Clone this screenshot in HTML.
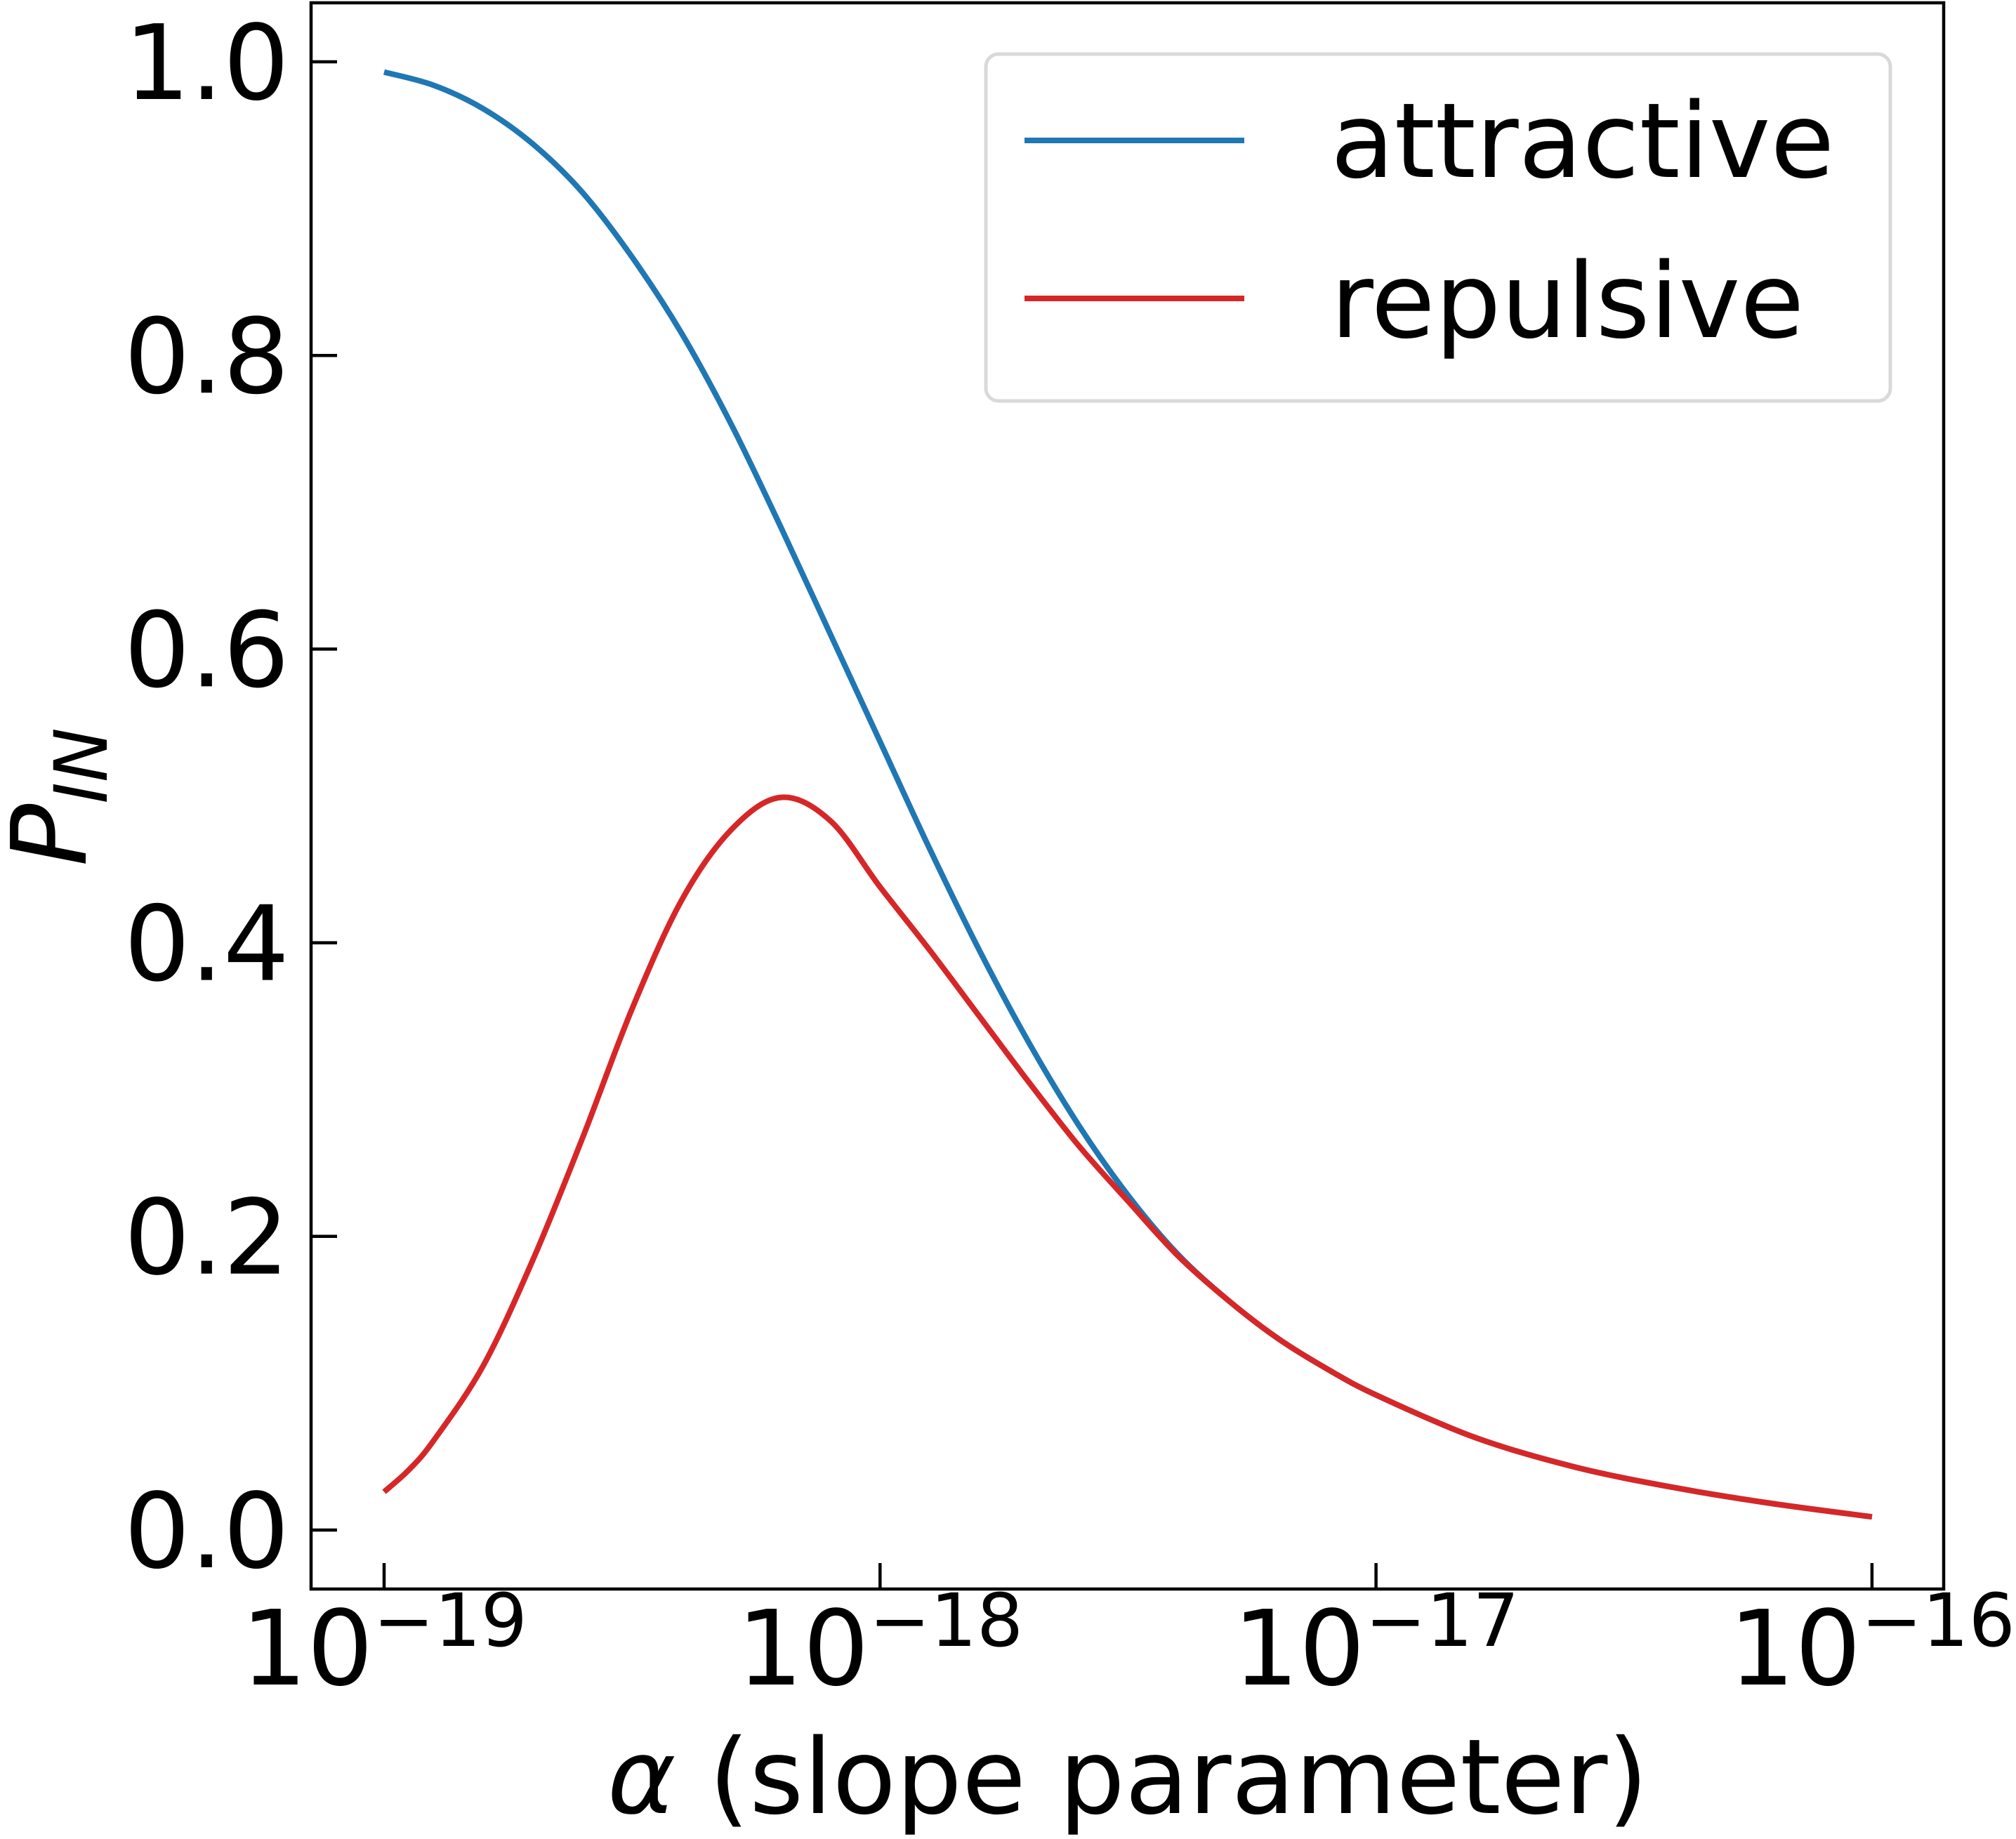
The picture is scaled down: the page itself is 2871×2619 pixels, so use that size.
<!DOCTYPE html>
<html><head><meta charset="utf-8"><style>
html,body{margin:0;padding:0;background:#fff;}
svg{display:block;font-family:"DejaVu Sans","Liberation Sans",sans-serif;}
</style></head><body>
<svg id="chart" width="2871" height="2619" viewBox="0 0 2871 2619" xmlns="http://www.w3.org/2000/svg">
<rect x="0" y="0" width="2871" height="2619" fill="#fff"/>
<g id="plot"></g>
<g id="axes"></g>
<g>
  <rect x="1404" y="77" width="1288" height="494" rx="18" fill="#fff" stroke="#d9d9d9" stroke-width="5"/>
  <line x1="1459" y1="200" x2="1772" y2="200" stroke="#1f77b4" stroke-width="8"/>
  <text x="1895" y="252" font-size="148">attractive</text>
  <line x1="1459" y1="425" x2="1772" y2="425" stroke="#d62728" stroke-width="8"/>
  <text x="1895" y="480" font-size="148">repulsive</text>
</g>
<text x="1606" y="2582" font-size="148" text-anchor="middle"><tspan font-style="italic">α</tspan> (slope parameter)</text>
<text transform="translate(122,1135) rotate(-90)" font-size="148" text-anchor="middle" font-style="italic">P<tspan font-size="104" dy="30">IN</tspan></text>
</svg>
<script>
const attrLogX = [-19,-18.9,-18.8,-18.7,-18.6,-18.5,-18.4,-18.3,-18.2,-18.1,-18,-17.9,-17.8,-17.7,-17.6,-17.5,-17.4,-17.3,-17.2,-17.1,-17,-16.8,-16.6,-16.4,-16.2,-16];
const attrVals = [0.993,0.984,0.968,0.944,0.911,0.867,0.815,0.753,0.683,0.610,0.537,0.464,0.395,0.332,0.276,0.228,0.188,0.157,0.131,0.110,0.092,0.063,0.043,0.029,0.018,0.009];
const repLogX = [-19,-18.95,-18.9,-18.8,-18.7,-18.6,-18.5,-18.4,-18.3,-18.2,-18.1,-18,-17.9,-17.8,-17.7,-17.6,-17.5,-17.4,-17.3,-17.2,-17.1,-17,-16.8,-16.6,-16.4,-16.2,-16];
const repVals = [0.026,0.041,0.061,0.112,0.184,0.267,0.355,0.429,0.477,0.499,0.483,0.438,0.395,0.350,0.305,0.262,0.224,0.187,0.157,0.131,0.110,0.092,0.063,0.043,0.029,0.018,0.009];
const yTicks = [0.0,0.2,0.4,0.6,0.8,1.0];
const yTickLabels = ["0.0","0.2","0.4","0.6","0.8","1.0"];
const xTickExps = [-19,-18,-17,-16];
const xTickSups = ["−19","−18","−17","−16"];

const NS="http://www.w3.org/2000/svg";
const L=443,R=2768,T=4,B=2263;
function xs(e){return 547+(e+19)*706.3;}
function ys(v){return 2179-v*2091;}
function mk(tag,attrs,parent){const el=document.createElementNS(NS,tag);for(const k in attrs)el.setAttribute(k,attrs[k]);parent.appendChild(el);return el;}
const plot=document.getElementById('plot');
const axes=document.getElementById('axes');
function smoothPath(xsArr,vs){
  const pts=xsArr.map((e,i)=>[xs(e),ys(vs[i])]);
  let d='M'+pts[0][0]+','+pts[0][1];
  for(let i=0;i<pts.length-1;i++){
    const p0=pts[Math.max(0,i-1)],p1=pts[i],p2=pts[i+1],p3=pts[Math.min(pts.length-1,i+2)];
    const c1=[p1[0]+(p2[0]-p0[0])/6,p1[1]+(p2[1]-p0[1])/6];
    const c2=[p2[0]-(p3[0]-p1[0])/6,p2[1]-(p3[1]-p1[1])/6];
    d+=' C'+c1[0]+','+c1[1]+' '+c2[0]+','+c2[1]+' '+p2[0]+','+p2[1];
  }
  return d;
}
const pa=mk('path',{d:smoothPath(attrLogX,attrVals),fill:'none',stroke:'#1f77b4','stroke-width':8},plot);


const pr=mk('path',{d:smoothPath(repLogX,repVals),fill:'none',stroke:'#d62728','stroke-width':8},plot);



const frame=mk('rect',{x:L,y:T,width:R-L,height:B-T,fill:'none',stroke:'#000','stroke-width':4.5},axes);



yTicks.forEach((v,i)=>{
  const y=ys(v);
  const t=mk('line',{x1:L,y1:y,x2:L+37,y2:y,stroke:'#000','stroke-width':4.5},axes);
  
  
  const lb=mk('text',{x:412,y:y+53,'font-size':148,'text-anchor':'end'},axes);
  lb.textContent=yTickLabels[i];
  
  
});
xTickExps.forEach((e,i)=>{
  const x=xs(e);
  const t=mk('line',{x1:x,y1:B,x2:x,y2:B-37,stroke:'#000','stroke-width':4.5},axes);
  
  
  const lb=mk('text',{x:x,y:2399,'font-size':148,'text-anchor':'middle'},axes);
  
  
  const a=mk('tspan',{},lb);a.textContent='10';
  const b=mk('tspan',{'font-size':104,dy:-55},lb);b.textContent=xTickSups[i];
});
</script>
</body></html>
